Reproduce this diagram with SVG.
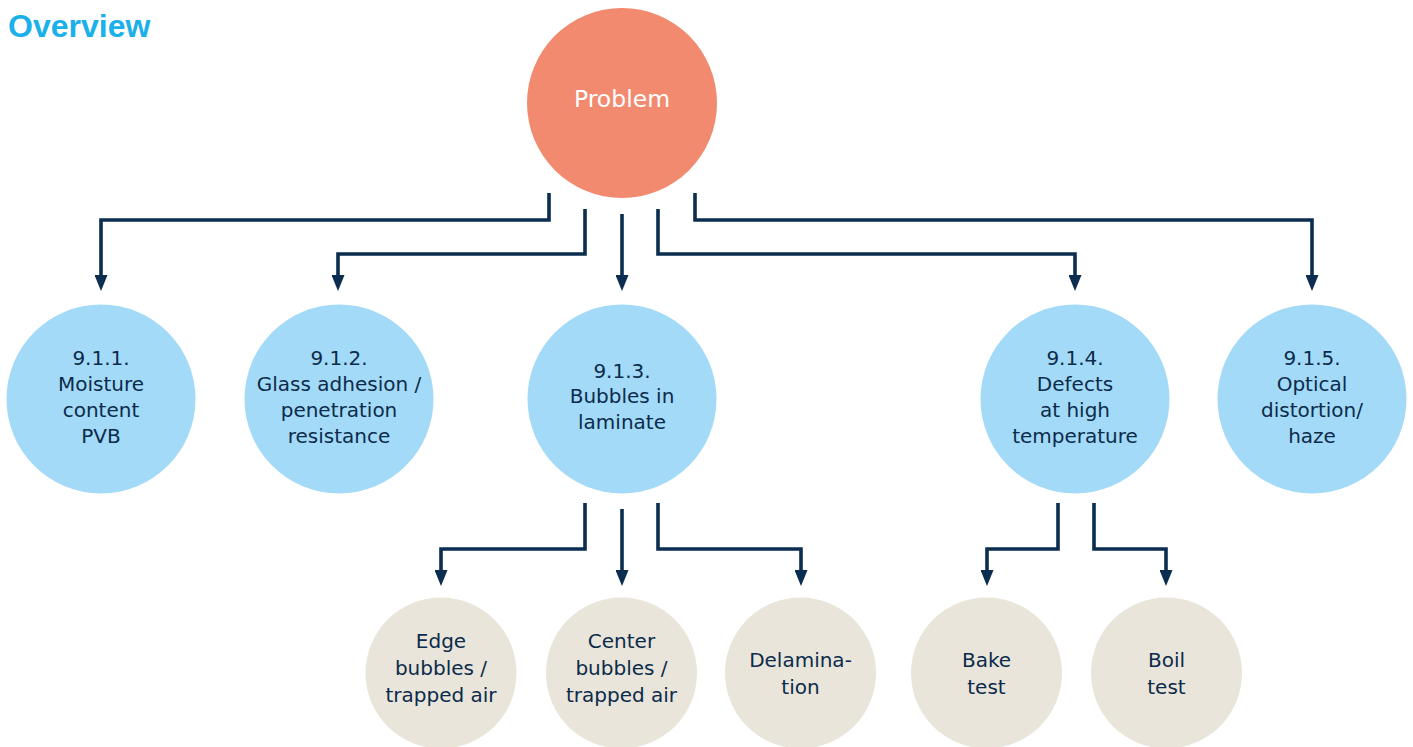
<svg xmlns="http://www.w3.org/2000/svg" width="1413" height="747" viewBox="0 0 1413 747">
<style>
.t{font-family:"DejaVu Sans",sans-serif;font-size:20px;fill:#0c2b4b;text-anchor:middle}
.p{fill:#f28a70}
.b{fill:#a3daf7}
.g{fill:#e9e5da}
.c{fill:none;stroke:#0b2d4f;stroke-width:3.6;stroke-linejoin:miter;marker-end:url(#ah)}
</style>
<defs>
<marker id="ah" markerUnits="userSpaceOnUse" viewBox="0 0 16 13" markerWidth="16" markerHeight="13" refX="6" refY="6.5" orient="auto">
<path d="M0,0 L16,6.5 L0,13 z" fill="#0b2d4f"/>
</marker>
</defs>
<rect width="1413" height="747" fill="#ffffff"/>
<text x="8" y="37" font-family="Liberation Sans, Arial, sans-serif" font-weight="bold" font-size="32" fill="#1ab0e9">Overview</text>
<g id="connectors">
<path class="c" d="M549,193 V220 H101 V281"/>
<path class="c" d="M585,209 V254 H338 V281"/>
<path class="c" d="M622,214 V281"/>
<path class="c" d="M658,209 V254 H1075 V281"/>
<path class="c" d="M695,193 V220 H1312 V281"/>
<path class="c" d="M585,503 V549 H441 V576"/>
<path class="c" d="M622,509 V576"/>
<path class="c" d="M658,503 V549 H801 V576"/>
<path class="c" d="M1058,503 V549 H987 V576"/>
<path class="c" d="M1094,503 V549 H1166 V576"/>
</g>
<g id="problem">
<circle class="p" cx="622" cy="103" r="95"/>
<text class="t" x="622" y="107" style="font-size:23.5px;fill:#ffffff">Problem</text>
</g>
<g id="n911">
<circle class="b" cx="101" cy="399" r="94.5"/>
<text class="t" x="101" y="365">9.1.1.</text>
<text class="t" x="101" y="391">Moisture</text>
<text class="t" x="101" y="417">content</text>
<text class="t" x="101" y="443">PVB</text>
</g>
<g id="n912">
<circle class="b" cx="339" cy="399" r="94.5"/>
<text class="t" x="339" y="365">9.1.2.</text>
<text class="t" x="339" y="391">Glass adhesion /</text>
<text class="t" x="339" y="417">penetration</text>
<text class="t" x="339" y="443">resistance</text>
</g>
<g id="n913">
<circle class="b" cx="622" cy="399" r="94.5"/>
<text class="t" x="622" y="378">9.1.3.</text>
<text class="t" x="622" y="403">Bubbles in</text>
<text class="t" x="622" y="429">laminate</text>
</g>
<g id="n914">
<circle class="b" cx="1075" cy="399" r="94.5"/>
<text class="t" x="1075" y="365">9.1.4.</text>
<text class="t" x="1075" y="391">Defects</text>
<text class="t" x="1075" y="417">at high</text>
<text class="t" x="1075" y="443">temperature</text>
</g>
<g id="n915">
<circle class="b" cx="1312" cy="399" r="94.5"/>
<text class="t" x="1312" y="365">9.1.5.</text>
<text class="t" x="1312" y="391">Optical</text>
<text class="t" x="1312" y="417">distortion/</text>
<text class="t" x="1312" y="443">haze</text>
</g>
<g id="edge">
<circle class="g" cx="441" cy="673" r="75.5"/>
<text class="t" x="441" y="648">Edge</text>
<text class="t" x="441" y="675">bubbles /</text>
<text class="t" x="441" y="702">trapped air</text>
</g>
<g id="center">
<circle class="g" cx="621.5" cy="673" r="75.5"/>
<text class="t" x="621.5" y="648">Center</text>
<text class="t" x="621.5" y="675">bubbles /</text>
<text class="t" x="621.5" y="702">trapped air</text>
</g>
<g id="delamination">
<circle class="g" cx="800.5" cy="673" r="75.5"/>
<text class="t" x="800.5" y="667">Delamina-</text>
<text class="t" x="800.5" y="694">tion</text>
</g>
<g id="bake">
<circle class="g" cx="986.5" cy="673" r="75.5"/>
<text class="t" x="986.5" y="667">Bake</text>
<text class="t" x="986.5" y="694">test</text>
</g>
<g id="boil">
<circle class="g" cx="1166.5" cy="673" r="75.5"/>
<text class="t" x="1166.5" y="667">Boil</text>
<text class="t" x="1166.5" y="694">test</text>
</g>
</svg>
